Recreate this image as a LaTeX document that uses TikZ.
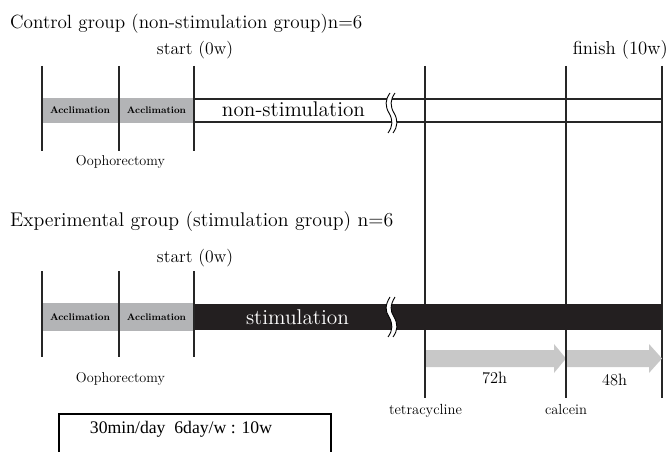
\documentclass[tikz,border=0pt]{standalone}
\usepackage{fontspec}
\usepackage{graphicx}
\newfontfamily\timesf{Liberation Serif}
\newcommand\fitw[2]{\resizebox{#1pt}{!}{#2}}
\definecolor{bandgray}{HTML}{B3B4B6}
\definecolor{arrgray}{HTML}{C8C8C8}
\definecolor{bandblack}{HTML}{231F20}
\begin{document}
\begin{tikzpicture}[x=1pt,y=-1pt,
  vline/.style={line width=1.5pt,black!85},
  hline/.style={line width=1.2pt,black!85},
  txt/.style={inner sep=0pt,anchor=base,font=\fontsize{12}{14}\selectfont},
  titletxt/.style={txt,anchor=base west},
  accl/.style={inner sep=0pt,font=\bfseries\fontsize{8.6}{10}\selectfont},
  garrow/.style={fill=arrgray,draw=none}]
\useasboundingbox (0,0) rectangle (670,452);
\fill[white] (0,0) rectangle (670,452);

% ---------- control group ----------
\node[titletxt] (t1) at (10,29) {\fitw{352}{Control group (non-stimulation group)n=6}};
\node[txt] (s1) at (195,55) {\fitw{76}{start (0w)}};
\node[txt,anchor=base east] (f1) at (668,55) {\fitw{95}{finish (10w)}};

\fill[bandgray] (42,98) rectangle (194,123);
\draw[hline] (194,99) -- (662,99);
\draw[hline] (194,122) -- (662,122);
\node[accl] (a1) at (80,110.5) {\fitw{60}{Acclimation}};
\node[accl] (a2) at (156.5,110.5) {\fitw{59}{Acclimation}};
\node[txt] (ns) at (293.5,117) {\fitw{143}{non-stimulation}};

% break symbol (control)
\fill[white] (390,93) .. controls (385,100) and (385,106) .. (389,113) .. controls (393,120) and (393,126) .. (388,133)
  -- (393,133) .. controls (398,126) and (398,120) .. (394,113) .. controls (390,106) and (390,100) .. (395,93) -- cycle;
\draw[line width=0.9pt] (390,93) .. controls (385,100) and (385,106) .. (389,113) .. controls (393,120) and (393,126) .. (388,133);
\draw[line width=0.9pt] (395,93) .. controls (390,100) and (390,106) .. (394,113) .. controls (398,120) and (398,126) .. (393,133);

\draw[vline] (42,66) -- (42,151);
\draw[vline] (119,66) -- (119,151);
\draw[vline] (194,66) -- (194,151);
\node[txt] (o1) at (120.5,165) {\fitw{89}{Oophorectomy}};

% long lines
\draw[vline] (425,66) -- (425,398);
\draw[vline] (566,66) -- (566,398);
\draw[vline] (662,66) -- (662,398);

% ---------- experimental group ----------
\node[titletxt] (t2) at (10,226) {\fitw{383}{Experimental group (stimulation group) n=6}};
\node[txt] (s2) at (195,262) {\fitw{76}{start (0w)}};

\fill[bandgray] (42,303) rectangle (194,331);
\fill[bandblack] (194,304) rectangle (662,330);
\node[accl] (a3) at (80,317.5) {\fitw{60}{Acclimation}};
\node[accl] (a4) at (156.5,317.5) {\fitw{59}{Acclimation}};
\node[txt,text=white] (st) at (297.5,324) {\fitw{103}{stimulation}};

% break symbol (experimental)
\fill[white] (390,297) .. controls (385,305) and (385,311) .. (389,317) .. controls (393,324) and (393,330) .. (388,337)
  -- (393,337) .. controls (398,330) and (398,324) .. (394,317) .. controls (390,311) and (390,305) .. (395,297) -- cycle;
\draw[line width=0.9pt] (390,297) .. controls (385,305) and (385,311) .. (389,317) .. controls (393,324) and (393,330) .. (388,337);
\draw[line width=0.9pt] (395,297) .. controls (390,305) and (390,311) .. (394,317) .. controls (398,324) and (398,330) .. (393,337);

\draw[vline] (42,271) -- (42,357);
\draw[vline] (119,271) -- (119,357);
\draw[vline] (194,271) -- (194,357);
\node[txt] (o2) at (120.5,382) {\fitw{89}{Oophorectomy}};

% gray arrows
\fill[garrow] (426,350) -- (554,350) -- (554,344) -- (566,358.5) -- (554,373) -- (554,367) -- (426,367) -- cycle;
\fill[garrow] (567,350) -- (649,350) -- (649,344) -- (662,358.5) -- (649,373) -- (649,367) -- (567,367) -- cycle;
\draw[vline] (566,340) -- (566,378);

\node[txt] (h72) at (494.5,383) {\fitw{25}{72h}};
\node[txt] (h48) at (614.5,385) {\fitw{25}{48h}};
\node[txt] (tc) at (425.5,414) {\fitw{73}{tetracycline}};
\node[txt] (ca) at (566,414) {\fitw{42}{calcein}};

% legend box
\draw[line width=1.2pt] (59,456) |- (331,414) -- (331,456);
\node[txt,font=\timesf\fontsize{15}{17}\selectfont] (lg) at (181,433) {\fitw{182}{30min/day\ \ 6day/w : 10w}};
\end{tikzpicture}
\end{document}
